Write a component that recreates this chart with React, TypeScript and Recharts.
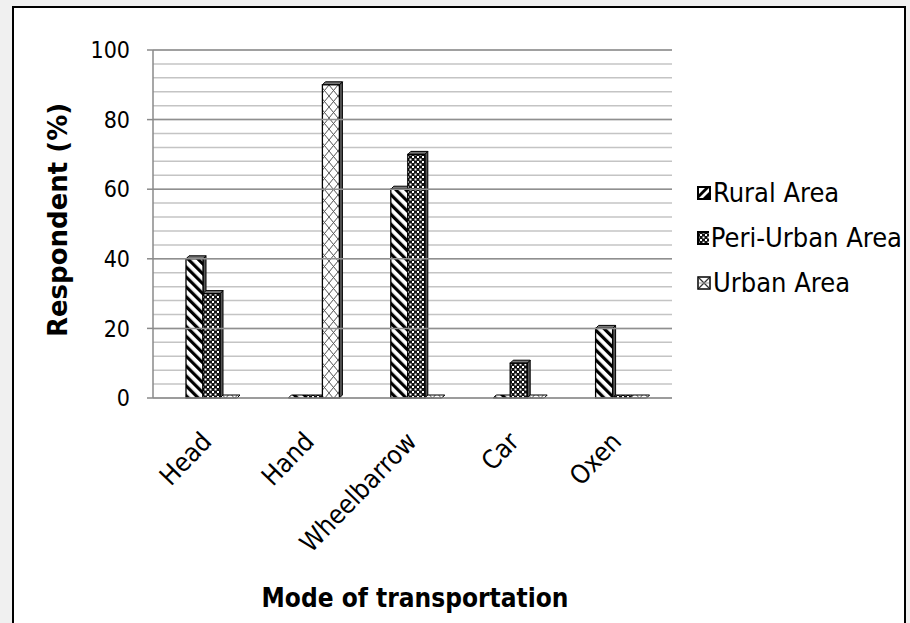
import React from 'react';
import { BarChart, Bar, XAxis, YAxis, CartesianGrid, ReferenceLine, Legend } from 'recharts';

const categories = ['Head', 'Hand', 'Wheelbarrow', 'Car', 'Oxen'];
const ruralArea = [40, 0, 60, 0, 20];
const periUrbanArea = [30, 0, 70, 10, 0];
const urbanArea = [0, 90, 0, 0, 0];
const seriesNames = ['Rural Area', 'Peri-Urban Area', 'Urban Area'];
const seriesKeys = ['rural', 'peri', 'urban'];
const yTickLabels = [0, 20, 40, 60, 80, 100];
const yGridValues = [0, 4, 8, 12, 16, 20, 24, 28, 32, 36, 40, 44, 48, 52, 56, 60, 64, 68, 72, 76, 80, 84, 88, 92, 96, 100];

const data = categories.map((c, i) => ({
  name: c,
  rural: ruralArea[i],
  peri: periUrbanArea[i],
  urban: urbanArea[i],
}));

const COND = "'DejaVu Sans Condensed', 'DejaVu Sans', sans-serif";
const fills = ['url(#patRural)', 'url(#patPeri)', 'url(#patUrban)'];

const Bar3D = (props: any) => {
  const { x, y, width, height, fill } = props;
  const d = 3;
  if (!height || height <= 0.5) {
    return (
      <polygon
        points={`${x},${y} ${x + width},${y} ${x + width + d},${y - d} ${x + d},${y - d}`}
        fill={fill}
        stroke="#000"
        strokeWidth={1}
      />
    );
  }
  return (
    <g>
      <polygon
        points={`${x + width},${y} ${x + width + d},${y - d} ${x + width + d},${y + height - d} ${x + width},${y + height}`}
        fill="#555"
        stroke="#000"
        strokeWidth={1}
      />
      <polygon
        points={`${x},${y} ${x + d},${y - d} ${x + width + d},${y - d} ${x + width},${y}`}
        fill="#777"
        stroke="#000"
        strokeWidth={1}
      />
      <rect x={x} y={y} width={width} height={height} fill={fill} stroke="#000" strokeWidth={1.3} />
    </g>
  );
};

const YTick = (props: any) => {
  const { x, y, payload } = props;
  if (!yTickLabels.includes(payload.value)) return null;
  return (
    <g>
      <line x1={x - 6} x2={x} y1={y} y2={y} stroke="#8a8a8a" strokeWidth={1.5} />
      <text x={x - 23} y={y} dy="0.36em" textAnchor="end" fontFamily={COND} fontSize={23} fill="#000">
        {payload.value}
      </text>
    </g>
  );
};

const XTick = (props: any) => {
  const { x, y, payload } = props;
  return (
    <text
      x={x + 2}
      y={y + 45}
      textAnchor="end"
      fontFamily={COND}
      fontSize={26}
      fill="#000"
      transform={`rotate(-46, ${x + 2}, ${y + 45})`}
    >
      {payload.value}
    </text>
  );
};

const LegendIcon = ({ i }: { i: number }) => {
  if (i === 0) {
    return (
      <svg width={14} height={14} style={{ display: 'block' }}>
        <rect x={1} y={1} width={12} height={12} fill="#fff" stroke="#000" strokeWidth={2} />
        <polygon points="1,13 1,9 9,1 13,1" fill="#000" />
        <polygon points="5,13 13,5 13,13" fill="#000" />
      </svg>
    );
  }
  if (i === 1) {
    return (
      <svg width={14} height={14} style={{ display: 'block' }}>
        <rect x={1} y={1} width={12} height={12} fill="url(#patPeri)" stroke="#000" strokeWidth={2} />
      </svg>
    );
  }
  return (
    <svg width={14} height={14} style={{ display: 'block' }}>
      <rect x={1} y={1} width={12} height={12} fill="#fff" stroke="#000" strokeWidth={1.5} />
      <line x1={2} y1={2} x2={12} y2={12} stroke="#333" strokeWidth={1.2} />
      <line x1={12} y1={2} x2={2} y2={12} stroke="#333" strokeWidth={1.2} />
      <line x1={2} y1={7} x2={12} y2={7} stroke="#999" strokeWidth={1} />
    </svg>
  );
};

const LegendContent = () => (
  <div style={{ fontFamily: COND, fontSize: 27, color: '#000' }}>
    {seriesNames.map((n, i) => (
      <div key={n} style={{ display: 'flex', alignItems: 'center', height: 45, whiteSpace: 'nowrap' }}>
        <LegendIcon i={i} />
        <span style={{ marginLeft: 2 }}>{n}</span>
      </div>
    ))}
  </div>
);

export default function App() {
  return (
    <div style={{ position: 'absolute', left: 0, top: 0, width: 910, height: 623, background: '#f0f0f0', overflow: 'hidden' }}>
      <svg width={0} height={0} style={{ position: 'absolute' }}>
        <defs>
          <pattern id="patRural" patternUnits="userSpaceOnUse" width={7} height={7} patternTransform="rotate(-45)">
            <rect x={0} y={0} width={7} height={7} fill="#fff" />
            <rect x={0} y={0} width={3.2} height={7} fill="#000" />
          </pattern>
          <pattern id="patPeri" patternUnits="userSpaceOnUse" width={5} height={5}>
            <rect x={0} y={0} width={5} height={5} fill="#111" />
            <rect x={0.5} y={0.5} width={2} height={2} fill="#fff" />
            <rect x={3} y={3} width={2} height={2} fill="#fff" />
          </pattern>
          <pattern id="patUrban" patternUnits="userSpaceOnUse" width={9} height={11}>
            <rect x={0} y={0} width={9} height={11} fill="#fff" />
            <line x1={0} y1={0} x2={9} y2={11} stroke="#555" strokeWidth={1} />
            <line x1={9} y1={0} x2={0} y2={11} stroke="#555" strokeWidth={1} />
          </pattern>
        </defs>
      </svg>
      <div
        style={{
          position: 'absolute',
          left: 12,
          top: 6,
          width: 890,
          height: 640,
          border: '2px solid #000',
          background: '#fff',
        }}
      >
        <BarChart
          width={890}
          height={620}
          data={data}
          margin={{ top: 42, right: 232, bottom: 50, left: 79 }}
          barSize={17}
          barGap={0}
        >
          <CartesianGrid vertical={false} stroke="#c4c4c4" strokeWidth={1.5} />
          {yTickLabels.slice(1).map((v) => (
            <ReferenceLine key={v} y={v} stroke="#8f8f8f" strokeWidth={1.5} />
          ))}
          <XAxis
            dataKey="name"
            height={180}
            interval={0}
            padding={{ left: 7, right: 0 }}
            tickLine={false}
            tickSize={0}
            tickMargin={0}
            axisLine={{ stroke: '#8a8a8a', strokeWidth: 1.5 }}
            tick={<XTick />}
          />
          <YAxis
            width={60}
            domain={[0, 100]}
            ticks={yGridValues}
            interval={0}
            tickLine={false}
            tickSize={0}
            tickMargin={0}
            axisLine={{ stroke: '#8a8a8a', strokeWidth: 1.5 }}
            tick={<YTick />}
          />
          <Legend
            layout="vertical"
            align="center"
            verticalAlign="middle"
            wrapperStyle={{ left: 683, top: 162, width: 205 }}
            content={<LegendContent />}
          />
          {seriesKeys.map((k, i) => (
            <Bar key={k} dataKey={k} name={seriesNames[i]} fill={fills[i]} shape={<Bar3D />} isAnimationActive={false} />
          ))}
          <text x={44} y={212} transform="rotate(-90, 44, 212)" textAnchor="middle" dominantBaseline="central" fontFamily="'DejaVu Sans', sans-serif" fontWeight="bold" fontSize={26} fill="#000">
            Respondent (%)
          </text>
          <text x={401} y={599} textAnchor="middle" fontFamily={COND} fontWeight="bold" fontSize={26} fill="#000">
            Mode of transportation
          </text>
        </BarChart>
      </div>
    </div>
  );
}
